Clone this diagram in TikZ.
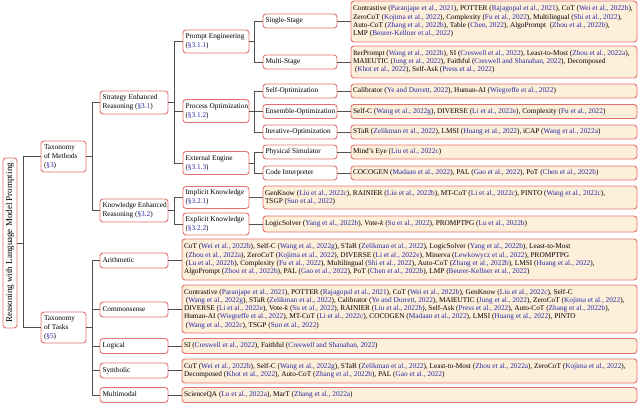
\documentclass[tikz,border=0pt]{standalone}
\usepackage{fontspec}
\setmainfont{Liberation Serif}
\usetikzlibrary{calc}
\definecolor{bred}{RGB}{228,112,112}
\definecolor{lfill}{RGB}{253,239,217}
\definecolor{cblue}{RGB}{40,40,165}
\definecolor{lgray}{RGB}{80,80,80}
\newcommand\ct[1]{\textcolor{cblue}{#1}}
\newcommand\tb[2]{\makebox[#1][l]{\begin{tabular}{@{}l@{}}#2\end{tabular}}}
\begin{document}
\begin{tikzpicture}[x=1pt,y=-1pt,
  box/.style={draw=bred, line width=0.9pt, fill=white, rounded corners=3pt, inner sep=0pt, font=\fontsize{7.3}{8.8}\selectfont},
  leaf/.style={draw=bred, line width=0.9pt, fill=lfill, rounded corners=3pt, inner sep=0pt, font=\fontsize{7.3}{8.3}\selectfont},
  conn/.style={draw=lgray, line width=0.8pt}]
\useasboundingbox (0,0) rectangle (640,404);

% root
\node[box, rotate=90, minimum width=170pt, minimum height=14pt, font=\fontsize{9}{10}\selectfont] (root) at (10,243) {Reasoning with Language Model Prompting};

% level 1
\node[box, minimum width=45pt, minimum height=31pt] (methods) at (63.5,156.5) {\tb{39pt}{Taxonomy\\of Methods\\(\ct{§3})}};
\node[box, minimum width=45pt, minimum height=31pt] (tasks) at (63.5,327.5) {\tb{39pt}{Taxonomy\\of Tasks\\(\ct{§5})}};

% level 2 methods
\node[box, minimum width=68pt, minimum height=23pt] (strat) at (134,102.5) {\tb{63pt}{Strategy Enhanced\\Reasoning (\ct{§3.1})}};
\node[box, minimum width=68pt, minimum height=23pt] (know) at (134,210.5) {\tb{63pt}{Knowledge Enhanced\\Reasoning (\ct{§3.2})}};

% level 2 tasks
\node[box, minimum width=68pt, minimum height=15pt] (arith) at (134,260.5) {\tb{63pt}{Arithmetic}};
\node[box, minimum width=68pt, minimum height=15pt] (common) at (134,309.5) {\tb{63pt}{Commonsense}};
\node[box, minimum width=68pt, minimum height=15pt] (logic) at (134,346) {\tb{63pt}{Logical}};
\node[box, minimum width=68pt, minimum height=15pt] (symb) at (134,370.5) {\tb{63pt}{Symbolic}};
\node[box, minimum width=68pt, minimum height=15pt] (mm) at (134,395) {\tb{63pt}{Multimodal}};

% level 3
\node[box, minimum width=66pt, minimum height=23pt] (pe) at (216,41.5) {\tb{61pt}{Prompt Engineering\\(\ct{§3.1.1})}};
\node[box, minimum width=66pt, minimum height=23pt] (po) at (216,111) {\tb{61pt}{Process Optimization\\(\ct{§3.1.2})}};
\node[box, minimum width=66pt, minimum height=23pt] (ee) at (216,163) {\tb{61pt}{External Engine\\(\ct{§3.1.3})}};
\node[box, minimum width=66pt, minimum height=22pt] (ik) at (216,197.5) {\tb{61pt}{Implicit Knowledge\\(\ct{§3.2.1})}};
\node[box, minimum width=66pt, minimum height=22pt] (ek) at (216,224) {\tb{61pt}{Explicit Knowledge\\(\ct{§3.2.2})}};

% level 4
\node[box, minimum width=74pt, minimum height=14pt] (ss) at (300,21) {\tb{69pt}{Single-Stage}};
\node[box, minimum width=74pt, minimum height=14pt] (ms) at (300,62) {\tb{69pt}{Multi-Stage}};
\node[box, minimum width=74pt, minimum height=14pt] (so) at (300,91) {\tb{69pt}{Self-Optimization}};
\node[box, minimum width=74pt, minimum height=14pt] (eo) at (300,111.5) {\tb{69pt}{Ensemble-Optimization}};
\node[box, minimum width=74pt, minimum height=14pt] (io) at (300,132) {\tb{69pt}{Iterative-Optimization}};
\node[box, minimum width=74pt, minimum height=14pt] (ps) at (300,152) {\tb{69pt}{Physical Simulator}};
\node[box, minimum width=74pt, minimum height=14pt] (ci) at (300,173) {\tb{69pt}{Code Interpreter}};

% leaves
\node[leaf, minimum width=286pt, minimum height=41pt] (ssl) at (494,21.5) {\tb{282pt}{%
Contrastive (\ct{Paranjape et al., 2021}), POTTER (\ct{Rajagopal et al., 2021}), CoT (\ct{Wei et al., 2022b}),\\
ZeroCoT (\ct{Kojima et al., 2022}), Complexity (\ct{Fu et al., 2022}), Multilingual (\ct{Shi et al., 2022}),\\
Auto-CoT (\ct{Zhang et al., 2022b}), Table (\ct{Chen, 2022}), AlgoPrompt\ \ (\ct{Zhou et al., 2022b}),\\
LMP (\ct{Beurer-Kellner et al., 2022})}};
\node[leaf, minimum width=286pt, minimum height=32pt] (msl) at (494,62) {\tb{282pt}{%
IterPrompt (\ct{Wang et al., 2022b}), SI (\ct{Creswell et al., 2022}), Least-to-Most (\ct{Zhou et al., 2022a}),\\
MAIEUTIC (\ct{Jung et al., 2022}), Faithful (\ct{Creswell and Shanahan, 2022}), Decomposed\\
\ (\ct{Khot et al., 2022}), Self-Ask (\ct{Press et al., 2022})}};
\node[leaf, minimum width=286pt, minimum height=14pt] (sol) at (494,91) {\tb{282pt}{%
Calibrator (\ct{Ye and Durrett, 2022}), Human-AI (\ct{Wiegreffe et al., 2022})}};
\node[leaf, minimum width=286pt, minimum height=14pt] (eol) at (494,111.5) {\tb{282pt}{%
Self-C (\ct{Wang et al., 2022g}), DIVERSE (\ct{Li et al., 2022e}), Complexity (\ct{Fu et al., 2022})}};
\node[leaf, minimum width=286pt, minimum height=14pt] (iol) at (494,132) {\tb{282pt}{%
STaR (\ct{Zelikman et al., 2022}), LMSI (\ct{Huang et al., 2022}), iCAP (\ct{Wang et al., 2022a})}};
\node[leaf, minimum width=286pt, minimum height=14pt] (psl) at (494,152) {\tb{282pt}{%
Mind's Eye (\ct{Liu et al., 2022c})}};
\node[leaf, minimum width=286pt, minimum height=14pt] (cil) at (494,173) {\tb{282pt}{%
COCOGEN (\ct{Madaan et al., 2022}), PAL (\ct{Gao et al., 2022}), PoT (\ct{Chen et al., 2022b})}};
\node[leaf, minimum width=374pt, minimum height=23pt] (ikl) at (450,197.5) {\tb{370pt}{%
GenKnow (\ct{Liu et al., 2022c}), RAINIER (\ct{Liu et al., 2022b}), MT-CoT (\ct{Li et al., 2022c}), PINTO (\ct{Wang et al., 2022c}),\\
TSGP (\ct{Sun et al., 2022})}};
\node[leaf, minimum width=374pt, minimum height=16pt] (ekl) at (450,224) {\tb{370pt}{%
LogicSolver (\ct{Yang et al., 2022b}), Vote-\textit{k} (\ct{Su et al., 2022}), PROMPTPG (\ct{Lu et al., 2022b})}};

\node[leaf, minimum width=455pt, minimum height=41pt] (arl) at (409.5,259.5) {\tb{451pt}{%
CoT (\ct{Wei et al., 2022b}), Self-C (\ct{Wang et al., 2022g}), STaR (\ct{Zelikman et al., 2022}), LogicSolver (\ct{Yang et al., 2022b}), Least-to-Most\\
\ (\ct{Zhou et al., 2022a}), ZeroCoT (\ct{Kojima et al., 2022}), DIVERSE (\ct{Li et al., 2022e}), Minerva (\ct{Lewkowycz et al., 2022}), PROMPTPG\\
\ (\ct{Lu et al., 2022b}), Complexity (\ct{Fu et al., 2022}), Multilingual (\ct{Shi et al., 2022}), Auto-CoT (\ct{Zhang et al., 2022b}), LMSI (\ct{Huang et al., 2022}),\\
AlgoPrompt (\ct{Zhou et al., 2022b}), PAL (\ct{Gao et al., 2022}), PoT (\ct{Chen et al., 2022b}), LMP (\ct{Beurer-Kellner et al., 2022})}};
\node[leaf, minimum width=455pt, minimum height=48pt] (col) at (409.5,309) {\tb{451pt}{%
Contrastive (\ct{Paranjape et al., 2021}), POTTER (\ct{Rajagopal et al., 2021}), CoT (\ct{Wei et al., 2022b}), GenKnow (\ct{Liu et al., 2022c}), Self-C\\
\ (\ct{Wang et al., 2022g}), STaR (\ct{Zelikman et al., 2022}), Calibrator (\ct{Ye and Durrett, 2022}), MAIEUTIC (\ct{Jung et al., 2022}), ZeroCoT (\ct{Kojima et al., 2022}),\\
DIVERSE (\ct{Li et al., 2022e}), Vote-\textit{k} (\ct{Su et al., 2022}), RAINIER (\ct{Liu et al., 2022b}), Self-Ask (\ct{Press et al., 2022}), Auto-CoT (\ct{Zhang et al., 2022b}),\\
Human-AI (\ct{Wiegreffe et al., 2022}), MT-CoT (\ct{Li et al., 2022c}), COCOGEN (\ct{Madaan et al., 2022}), LMSI (\ct{Huang et al., 2022}), PINTO\\
\ (\ct{Wang et al., 2022c}), TSGP (\ct{Sun et al., 2022})}};
\node[leaf, minimum width=455pt, minimum height=15pt] (lol) at (409.5,346) {\tb{451pt}{%
SI (\ct{Creswell et al., 2022}), Faithful (\ct{Creswell and Shanahan, 2022})}};
\node[leaf, minimum width=455pt, minimum height=24pt] (syl) at (409.5,371) {\tb{451pt}{%
CoT (\ct{Wei et al., 2022b}), Self-C (\ct{Wang et al., 2022g}), STaR (\ct{Zelikman et al., 2022}), Least-to-Most (\ct{Zhou et al., 2022a}), ZeroCoT (\ct{Kojima et al., 2022}),\\
Decomposed (\ct{Khot et al., 2022}), Auto-CoT (\ct{Zhang et al., 2022b}), PAL (\ct{Gao et al., 2022})}};
\node[leaf, minimum width=455pt, minimum height=15pt] (mml) at (409.5,395) {\tb{451pt}{%
ScienceQA (\ct{Lu et al., 2022a}), MarT (\ct{Zhang et al., 2022a})}};

% tree connectors
\foreach \c in {methods,tasks} \draw[conn] (root.south) -- ++(6,0) |- (\c.west);
\foreach \c in {strat,know} \draw[conn] (methods.east) -- ++(6,0) |- (\c.west);
\foreach \c in {arith,common,logic,symb,mm} \draw[conn] (tasks.east) -- ++(6,0) |- (\c.west);
\foreach \c in {pe,po,ee} \draw[conn] (strat.east) -- ++(6,0) |- (\c.west);
\foreach \c in {ik,ek} \draw[conn] (know.east) -- ++(6,0) |- (\c.west);
\foreach \c in {ss,ms} \draw[conn] (pe.east) -- ++(5,0) |- (\c.west);
\foreach \c in {so,eo,io} \draw[conn] (po.east) -- ++(5,0) |- (\c.west);
\foreach \c in {ps,ci} \draw[conn] (ee.east) -- ++(5,0) |- (\c.west);

% leaf connectors
\foreach \a/\b in {ss/ssl,ms/msl,so/sol,eo/eol,io/iol,ps/psl,ci/cil,ik/ikl,ek/ekl,arith/arl,common/col,logic/lol,symb/syl,mm/mml}
  \draw[conn] (\a.east) -- (\a.east -| \b.west);
\end{tikzpicture}
\end{document}
